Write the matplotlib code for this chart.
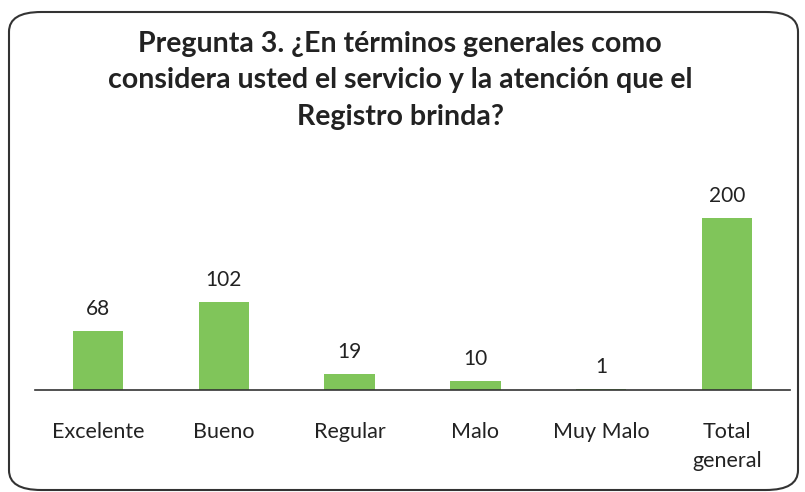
import matplotlib.pyplot as plt
from matplotlib.patches import FancyBboxPatch

categorias = ["Excelente", "Bueno", "Regular", "Malo", "Muy Malo", "Total\ngeneral"]
valores = [68, 102, 19, 10, 1, 200]

plt.rcParams["font.family"] = ["Lato", "DejaVu Sans"]

fig = plt.figure(figsize=(8.05, 4.92), dpi=100)
ax = fig.add_axes([35 / 805, 102 / 492, 755 / 805, 230 / 492])

x = range(len(categorias))
ax.bar(x, valores, width=0.4, color="#80c55a")
for i, v in enumerate(valores):
    ax.text(i, v + 14, str(v), ha="center", va="bottom", fontsize=15, color="#222222")

ax.set_xlim(-0.5, len(categorias) - 0.5)
ax.set_ylim(0, 267)
ax.set_yticks([])
ax.set_xticks(list(x))
ax.set_xticklabels(categorias, fontsize=15.5, color="#222222", linespacing=1.55)
ax.tick_params(axis="x", length=0, pad=23)
for s in ["top", "right", "left"]:
    ax.spines[s].set_visible(False)
ax.spines["bottom"].set_color("#333333")
ax.spines["bottom"].set_linewidth(1.2)

fig.text(0.497, 0.937, "Pregunta 3. ¿En términos generales como\nconsidera usted el servicio y la atención que el\nRegistro brinda?",
         ha="center", va="top", fontsize=20.5, fontweight="bold", color="#222222", linespacing=1.5)

caja = FancyBboxPatch((9 / 805, 2 / 492), 789 / 805, 478 / 492, boxstyle="round,pad=0,rounding_size=0.04",
                      transform=fig.transFigure, fill=False, edgecolor="#333333", linewidth=1.5)
fig.patches.append(caja)

fig.savefig("out.png", dpi=100)
